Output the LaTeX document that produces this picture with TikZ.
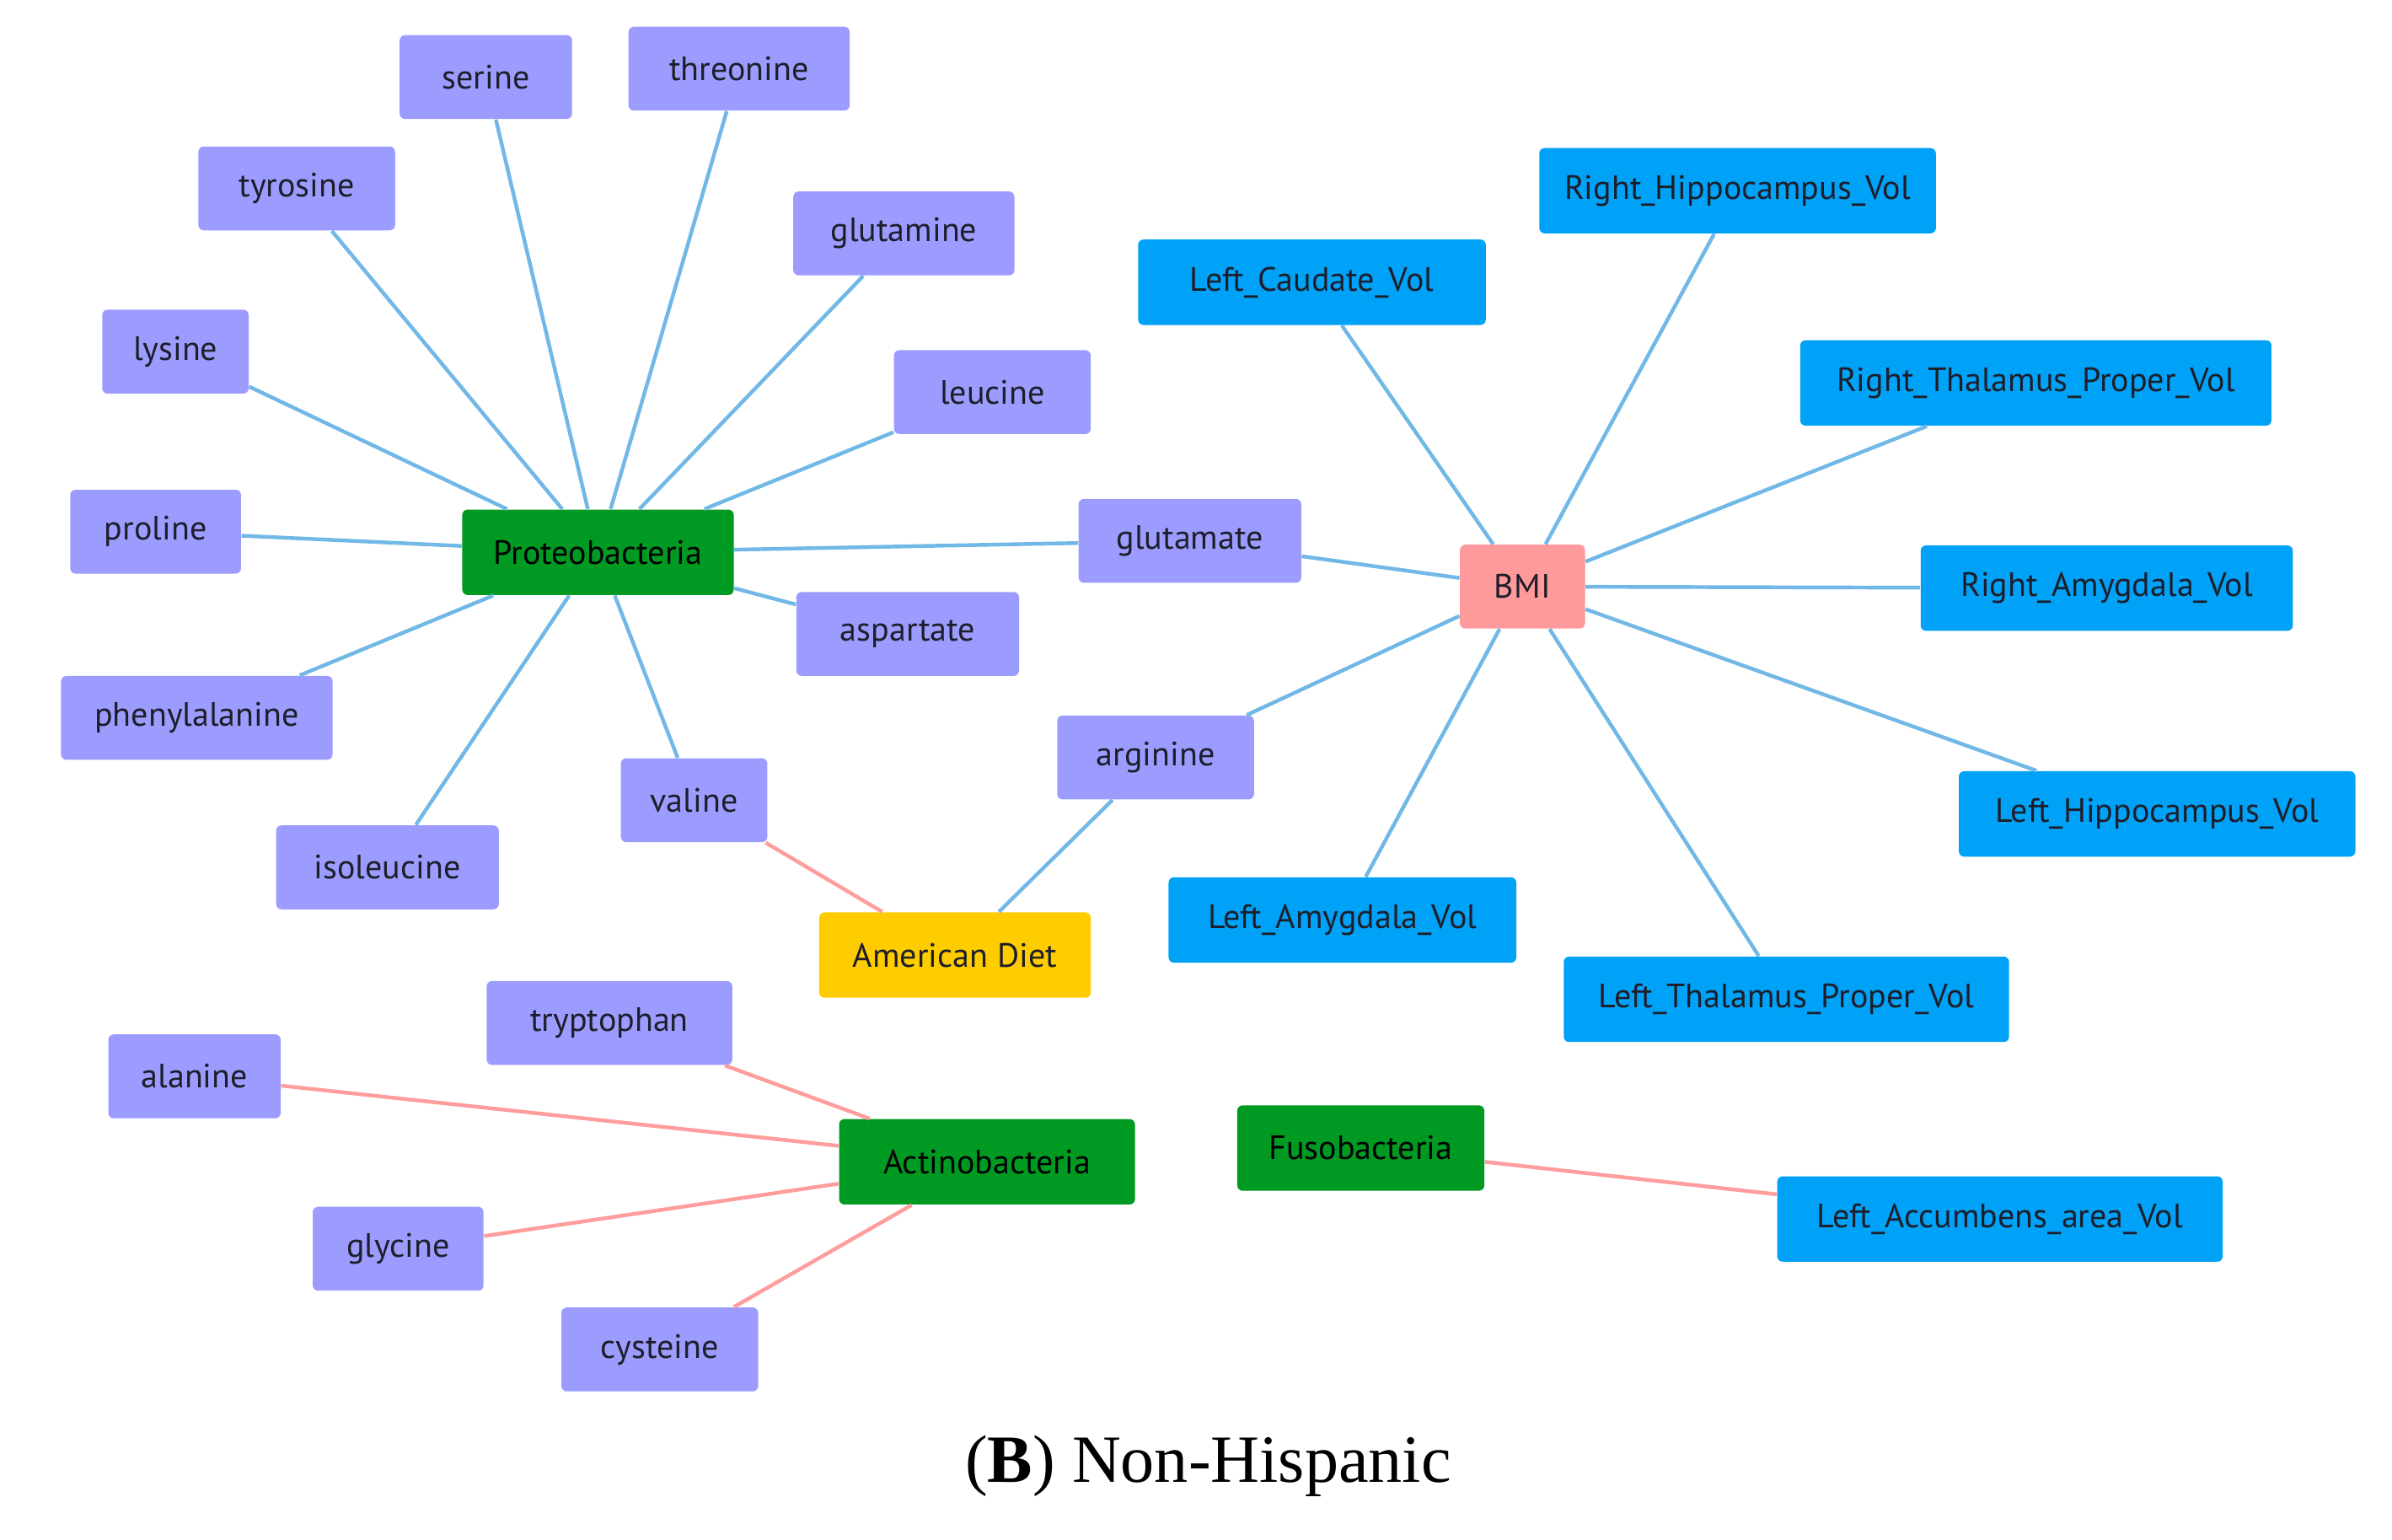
\documentclass[tikz,border=0pt]{standalone}
\usepackage{fontspec}
\setmainfont{Liberation Serif}
\newfontfamily\nodefont{PT Sans}
\usepackage{tikz}
\usetikzlibrary{positioning}
\definecolor{aminofill}{HTML}{9C9CFF}
\definecolor{phylumfill}{HTML}{009A22}
\definecolor{brainfill}{HTML}{00A2F7}
\definecolor{bmifill}{HTML}{FF9A9C}
\definecolor{dietfill}{HTML}{FFCC00}
\definecolor{posedge}{HTML}{72B8E6}
\definecolor{negedge}{HTML}{FF9C9C}
\definecolor{labink}{HTML}{1E1E2A}

\begin{document}
\begin{tikzpicture}[
  x=0.02cm,y=-0.02cm,
  every node/.style={font=\nodefont\fontsize{12.6}{14}\selectfont,text=labink,align=center},
  amino/.style={fill=aminofill,rounded corners=2pt,minimum height=1.1cm,inner sep=0pt},
  phylum/.style={fill=phylumfill,rounded corners=2pt,minimum height=1.12cm,inner sep=0pt,text=black},
  brain/.style={fill=brainfill,rounded corners=2pt,minimum height=1.12cm,inner sep=0pt},
  trait/.style={fill=bmifill,rounded corners=2pt,minimum height=1.1cm,inner sep=0pt},
  diet/.style={fill=dietfill,rounded corners=2pt,minimum height=1.12cm,inner sep=0pt},
  poslink/.style={line width=1.4pt,color=posedge},
  neglink/.style={line width=1.4pt,color=negedge}
]
\useasboundingbox (0,0) rectangle (1568,1009);

% amino acids
\node[amino,minimum width=2.26cm] (serine) at (318.5,50.5) {serine};
\node[amino,minimum width=2.90cm] (threonine) at (484.5,45) {threonine};
\node[amino,minimum width=2.58cm] (tyrosine) at (194.5,123.5) {tyrosine};
\node[amino,minimum width=2.90cm] (glutamine) at (592.5,153) {glutamine};
\node[amino,minimum width=1.92cm] (lysine) at (115,230.5) {lysine};
\node[amino,minimum width=2.58cm] (leucine) at (650.5,257) {leucine};
\node[amino,minimum width=2.24cm] (proline) at (102,348.5) {proline};
\node[amino,minimum width=2.92cm] (glutamate) at (780,354.5) {glutamate};
\node[amino,minimum width=2.92cm] (aspartate) at (595,415.5) {aspartate};
\node[amino,minimum width=3.56cm] (phenylalanine) at (129,470.5) {phenylalanine};
\node[amino,minimum width=1.92cm] (valine) at (455,524.5) {valine};
\node[amino,minimum width=2.92cm] (isoleucine) at (254,568.5) {isoleucine};
\node[amino,minimum width=2.58cm] (arginine) at (757.5,496.5) {arginine};
\node[amino,minimum width=3.22cm] (tryptophan) at (399.5,670.5) {tryptophan};
\node[amino,minimum width=2.26cm] (alanine) at (127.5,705.5) {alanine};
\node[amino,minimum width=2.24cm] (glycine) at (261,818.5) {glycine};
\node[amino,minimum width=2.58cm] (cysteine) at (432.5,884.5) {cysteine};

% phyla, diet, BMI
\node[phylum,minimum width=3.56cm] (proteo) at (392,362) {Proteobacteria};
\node[phylum,minimum width=3.88cm] (actino) at (647,761.5) {Actinobacteria};
\node[phylum,minimum width=3.24cm] (fuso) at (892,752.5) {Fusobacteria};
\node[diet,minimum width=3.56cm] (diet) at (626,626) {American Diet};
\node[trait,minimum width=1.64cm] (bmi) at (998,384.5) {BMI};

% brain volumes
\node[brain,minimum width=4.56cm] (lcaud) at (860,185) {Left\_Caudate\_Vol};
\node[brain,minimum width=5.20cm] (rhipp) at (1139,125) {Right\_Hippocampus\_Vol};
\node[brain,minimum width=6.18cm] (rthal) at (1334.5,251) {Right\_Thalamus\_Proper\_Vol};
\node[brain,minimum width=4.88cm] (ramyg) at (1381,385.5) {Right\_Amygdala\_Vol};
\node[brain,minimum width=5.20cm] (lhipp) at (1414,533.5) {Left\_Hippocampus\_Vol};
\node[brain,minimum width=4.56cm] (lamyg) at (880,603) {Left\_Amygdala\_Vol};
\node[brain,minimum width=5.84cm] (lthal) at (1171,655) {Left\_Thalamus\_Proper\_Vol};
\node[brain,minimum width=5.84cm] (laccu) at (1311,799) {Left\_Accumbens\_area\_Vol};

% edges
\foreach \n in {serine,threonine,tyrosine,glutamine,lysine,leucine,proline,glutamate,aspartate,phenylalanine,valine,isoleucine}
  \draw[poslink] (proteo) -- (\n);
\foreach \n in {glutamate,lcaud,rhipp,rthal,ramyg,lhipp,lthal,lamyg,arginine}
  \draw[poslink] (bmi) -- (\n);
\draw[poslink] (diet) -- (arginine);
\draw[neglink] (diet) -- (valine);
\foreach \n in {tryptophan,alanine,glycine,cysteine}
  \draw[neglink] (actino) -- (\n);
\draw[neglink] (fuso) -- (laccu);

\node[font=\rmfamily\fontsize{25.2}{30}\selectfont,text=black] (caption) at (792,961) {(\textbf{B}) Non-Hispanic};
\end{tikzpicture}
\end{document}
